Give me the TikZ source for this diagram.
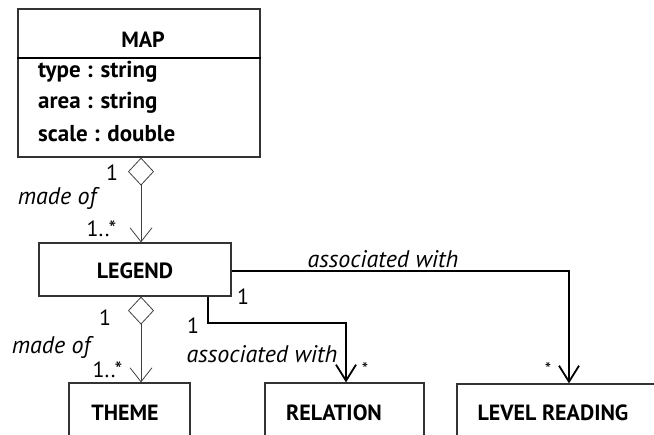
\documentclass[tikz,border=0pt]{standalone}
\usepackage{fontspec}
\setmainfont{PT Sans}
\usetikzlibrary{arrows.meta,calc}
\begin{document}
\begin{tikzpicture}[x=1pt,y=-1pt,
  every node/.style={font=\fontsize{22}{26}\selectfont, inner sep=0pt},
  classbox/.style={draw=black!80, line width=1.2pt, rectangle, inner sep=0pt},
  cname/.style={font=\fontsize{22}{26}\selectfont\bfseries},
  attr/.style={font=\fontsize{23}{27}\selectfont\bfseries, anchor=west},
  role/.style={font=\fontsize{24}{28}\selectfont\itshape},
  mult/.style={font=\fontsize{22}{26}\selectfont},
  star/.style={font=\fontsize{18}{20}\selectfont, anchor=north},
  agg/.style={draw=black!75, line width=0.8pt, {Diamond[open,length=28pt,width=26pt]}-{Straight Barb[length=14pt,width=22pt]}},
  assoc/.style={draw=black, line width=1.8pt, -{Straight Barb[length=16pt,width=20pt]}}
]
\clip (0,0) rectangle (654,435);
% MAP class
\node[classbox, minimum width=242pt, minimum height=148pt] (map) at (139,83) {};
\coordinate (sep) at (0,58);
\draw[line width=1.6pt] (map.west |- sep) -- (map.east |- sep);
\node[cname] (mapT) at (143,40) {MAP};
\node[attr] (a1) at (38,72) {type : string};
\node[attr] (a2) at (38,103) {area : string};
\node[attr] (a3) at (38,134) {scale : double};
% LEGEND
\node[classbox, minimum width=192pt, minimum height=53pt] (legend) at (135,269.5) {};
\node[cname] (legendT) at (135,271) {LEGEND};
% bottom classes
\node[classbox, minimum width=121pt, minimum height=80pt] (theme) at (129.5,423) {};
\node[cname] (themeT) at (125,412.5) {THEME};
\node[classbox, minimum width=159pt, minimum height=80pt] (relation) at (344.5,423) {};
\node[cname] (relationT) at (334,412.5) {RELATION};
\node[classbox, minimum width=223pt, minimum height=80pt] (level) at (568.5,424) {};
\node[cname] (levelT) at (553,412.5) {LEVEL READING};
% connectors
\coordinate (k1) at (141,0);
\draw[agg] (map.south -| k1) -- (legend.north -| k1);
\draw[agg] (legend.south -| k1) -- (theme.north -| k1);
\coordinate (k2) at (208,323);
\coordinate (k3) at (346,0);
\draw[assoc] (legend.south -| k2) -- (k2) -| (relation.north -| k3);
\coordinate (k4) at (569,0);
\coordinate (k5) at (0,271);
\draw[assoc] (legend.east |- k5) -| (level.north -| k4);
% labels
\node[mult] (m1) at (112,173) {1};
\node[role] (r1) at (57,198) {made of};
\node[mult] (m2) at (101.5,229) {1..*};
\node[mult] (m3) at (105,318) {1};
\node[role] (r2) at (51,347) {made of};
\node[mult] (m4) at (107.5,370) {1..*};
\node[mult] (m5) at (243,297) {1};
\node[mult] (m6) at (193,326) {1};
\node[role] (r3) at (383,259) {associated with};
\node[role] (r4) at (262,354.5) {associated with};
\node[star] (s1) at (365,362) {*};
\node[star] (s2) at (548,362) {*};
\end{tikzpicture}
\end{document}
